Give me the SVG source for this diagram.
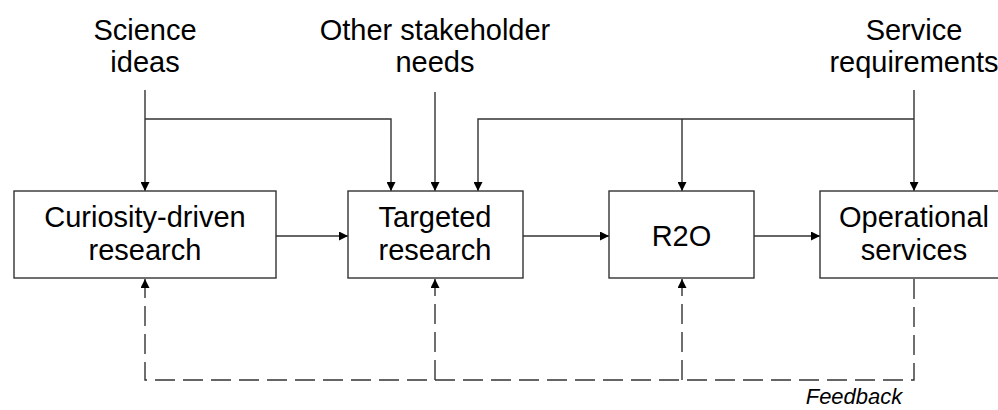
<svg xmlns="http://www.w3.org/2000/svg" width="998" height="410" viewBox="0 0 998 410">
<style>
.box{fill:#fff;stroke:#333;stroke-width:1.4}
.ln{fill:none;stroke:#333;stroke-width:1.4}
.dash{fill:none;stroke:#333;stroke-width:1.4;stroke-dasharray:20 8}
text{font-family:"Liberation Sans",Arial,sans-serif;font-size:29px;fill:#000;text-anchor:middle}
.fb{font-size:22px;font-style:italic}
</style>
<defs>
<marker id="ah" viewBox="0 0 10 10" refX="10" refY="5" markerWidth="11" markerHeight="9" markerUnits="userSpaceOnUse" orient="auto">
<path d="M0,0 L10,5 L0,10 Z" fill="#000"/>
</marker>
</defs>
<g id="labels">
<text x="145" y="40">Science</text>
<text x="145" y="72">ideas</text>
<text x="435" y="40">Other stakeholder</text>
<text x="435" y="72">needs</text>
<text x="914" y="40">Service</text>
<text x="914" y="72">requirements</text>
</g>
<g id="connectors">
<path class="ln" d="M145,90 V191" marker-end="url(#ah)"/>
<path class="ln" d="M145,119 H391 V191" marker-end="url(#ah)"/>
<path class="ln" d="M435,92 V191" marker-end="url(#ah)"/>
<path class="ln" d="M914,90 V191" marker-end="url(#ah)"/>
<path class="ln" d="M914,119 H478 V191" marker-end="url(#ah)"/>
<path class="ln" d="M682,119 V191" marker-end="url(#ah)"/>
<path class="ln" d="M276,236 H348" marker-end="url(#ah)"/>
<path class="ln" d="M523,236 H609" marker-end="url(#ah)"/>
<path class="ln" d="M754,236 H820" marker-end="url(#ah)"/>
<path class="dash" d="M914,279 V380 H145 V279" marker-end="url(#ah)"/>
<path class="dash" d="M435,380 V279" marker-end="url(#ah)"/>
<path class="dash" d="M682,380 V279" marker-end="url(#ah)"/>
<text class="fb" x="854" y="404">Feedback</text>
</g>
<g id="curiosity">
<rect class="box" x="14" y="191" width="262" height="87"/>
<text x="145" y="227">Curiosity-driven</text>
<text x="145" y="260">research</text>
</g>
<g id="targeted">
<rect class="box" x="348" y="191" width="175" height="87"/>
<text x="435" y="227">Targeted</text>
<text x="435" y="260">research</text>
</g>
<g id="r2o">
<rect class="box" x="609" y="191" width="145" height="87"/>
<text x="681.5" y="246">R2O</text>
</g>
<g id="operational">
<rect class="box" x="820" y="191" width="190" height="87"/>
<text x="914" y="227">Operational</text>
<text x="914" y="260">services</text>
</g>
</svg>
